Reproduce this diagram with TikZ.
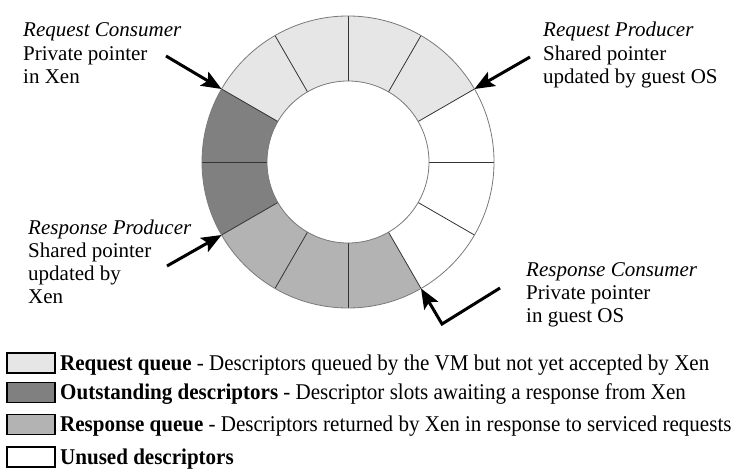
\documentclass[tikz,border=0pt]{standalone}
\usepackage{fontspec}
\usepackage{graphicx}
\setmainfont{Liberation Serif}
\usetikzlibrary{arrows.meta}
\definecolor{reqc}{HTML}{E6E6E6}
\definecolor{outc}{HTML}{808080}
\definecolor{rspc}{HTML}{B3B3B3}
\definecolor{rimc}{HTML}{7A7A7A}
\begin{document}
\begin{tikzpicture}[x=1pt,y=-1pt,
  lbl/.style={anchor=base west, inner sep=0pt, align=left, font=\fontsize{21}{23.3}\selectfont},
  ptr/.style={line width=3pt, -{Stealth[length=20pt,width=16pt,inset=4pt]}},
  divider/.style={draw=black!80, line width=0.8pt},
  rim/.style={draw=rimc, line width=0.8pt},
  keybox/.style={draw=black, line width=1.2pt, minimum width=48pt, minimum height=20pt, inner sep=0pt},
  legtxt/.style={anchor=base west, inner sep=0pt, font=\fontsize{22.5}{26}\selectfont}]
\useasboundingbox (0,0) rectangle (733,476);
\begin{scope}[shift={(348,162)}, y=1pt]
  \foreach \a/\c in {0/white,30/reqc,60/reqc,90/reqc,120/reqc,150/outc,180/outc,210/rspc,240/rspc,270/rspc,300/white,330/white}{
    \pgfmathsetmacro\b{\a+30}
    \fill[\c] (\a:81) arc[start angle=\a, end angle=\b, radius=81] -- (\b:146) arc[start angle=\b, end angle=\a, radius=146] -- cycle;
  }
  \foreach \a in {0,30,...,330}{
    \draw[divider] (\a:81) -- (\a:146);
  }
  \draw[rim] (0,0) circle[radius=146];
  \draw[rim] (0,0) circle[radius=81];
  \coordinate (rc) at (150:146);
  \coordinate (rp) at (30:146);
  \coordinate (xp) at (210:146);
  \coordinate (xc) at (300:146);
\end{scope}
% pointer arrows
\coordinate (rcs) at (166,56);
\coordinate (rps) at (530,57);
\coordinate (xps) at (167,266);
\coordinate (xcs) at (500,288);
\coordinate (xcb) at (442,324);
\draw[ptr] (rcs) -- (rc);
\draw[ptr] (rps) -- (rp);
\draw[ptr] (xps) -- (xp);
\draw[ptr] (xcs) -- (xcb) -- (xc);
% labels (anchored at the baseline of their last line)
\node[lbl] (rcl) at (23,83.6) {\textit{Request Consumer}\\Private pointer\\in Xen};
\node[lbl] (rpl) at (543,83.6) {\textit{Request Producer}\\Shared pointer\\updated by guest OS};
\node[lbl] (xpl) at (28,303.9) {\textit{Response Producer}\\Shared pointer\\updated by\\Xen};
\node[lbl] (xcl) at (526,322.6) {\textit{Response Consumer}\\Private pointer\\in guest OS};
% legend
\node[keybox, fill=reqc] (k1) at (31,363) {};
\node[keybox, fill=outc] (k2) at (31,392.5) {};
\node[keybox, fill=rspc] (k3) at (31,424.5) {};
\node[keybox, fill=white] (k4) at (31,457) {};
\node[legtxt] (t1) at (60,370) {\scalebox{0.935}[1]{\textbf{Request queue} - Descriptors queued by the VM but not yet accepted by Xen}};
\node[legtxt] (t2) at (60,399.5) {\scalebox{0.935}[1]{\textbf{Outstanding descriptors} - Descriptor slots awaiting a response from Xen}};
\node[legtxt] (t3) at (60,431.5) {\scalebox{0.935}[1]{\textbf{Response queue} - Descriptors returned by Xen in response to serviced requests}};
\node[legtxt] (t4) at (60,464) {\scalebox{0.935}[1]{\textbf{Unused descriptors}}};
\end{tikzpicture}
\end{document}
